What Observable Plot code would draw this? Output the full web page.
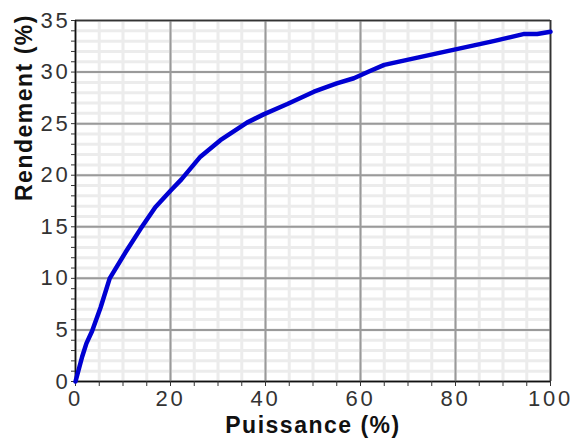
<!DOCTYPE html>
<html>
<head>
<meta charset="utf-8">
<script src="https://cdn.jsdelivr.net/npm/d3@7"></script>
<script src="https://cdn.jsdelivr.net/npm/@observablehq/plot@0.6"></script>
<style>
  html, body { margin: 0; padding: 0; background: #fff; }
  .ticklab text { letter-spacing: 2.8px; }
  .title text { letter-spacing: 1.5px; }
</style>
</head>
<body>
<div id="chart"></div>
<script>
// Data
const puissance = [0, 1.4, 2.3, 3.5, 5.3, 7.2, 10.5, 13.7, 16.8, 20, 22.3, 26.3, 30.5, 36.1, 39.6, 44.6, 50.2, 55, 58.6, 62, 65, 72, 80, 88, 94.5, 97.2, 100];
const rendement = [0, 2.4, 3.7, 4.9, 7.2, 10, 12.5, 14.8, 16.9, 18.5, 19.6, 21.8, 23.4, 25.1, 25.9, 26.9, 28.1, 28.9, 29.4, 30.1, 30.7, 31.4, 32.2, 33.0, 33.7, 33.7, 33.9];
const xMajor = [0, 20, 40, 60, 80, 100];
const xMinor = d3.range(0, 101, 5);
const yMajor = [0, 5, 10, 15, 20, 25, 30, 35];
const yMinor = d3.range(0, 36, 1);
const xLabel = "Puissance (%)";
const yLabel = "Rendement (%)";

const data = puissance.map((p, i) => ({p, r: rendement[i]}));

const chart = Plot.plot({
  width: 574,
  height: 441,
  marginLeft: 75,
  marginRight: 24,
  marginTop: 20,
  marginBottom: 60,
  style: {fontFamily: "'Liberation Sans', Arial, sans-serif", background: "#fff"},
  x: {domain: [0, 100]},
  y: {domain: [0, 35]},
  marks: [
    Plot.gridX(xMinor, {stroke: "#ececec", strokeWidth: 3, strokeOpacity: 1}),
    Plot.gridY(yMinor, {stroke: "#ececec", strokeWidth: 3, strokeOpacity: 1}),
    Plot.gridX(xMajor, {stroke: "#9a9a9a", strokeWidth: 2, strokeOpacity: 1}),
    Plot.gridY(yMajor, {stroke: "#9a9a9a", strokeWidth: 2, strokeOpacity: 1}),
    Plot.ruleX([100], {stroke: "#333", strokeWidth: 1.5}),
    Plot.ruleY([35], {stroke: "#333", strokeWidth: 1.5}),
    Plot.ruleX([0], {stroke: "#111", strokeWidth: 1.5}),
    Plot.ruleY([0], {stroke: "#111", strokeWidth: 1.5}),
    Plot.axisX({ticks: xMinor, tickSize: 5, tickPadding: 4, fontSize: 22, label: null,
      tickFormat: d => (d % 20 === 0 ? String(d) : ""), color: "#333", className: "ticklab"}),
    Plot.axisY({ticks: yMinor, tickSize: 4, tickPadding: 1, fontSize: 22, label: null,
      tickFormat: d => (d % 5 === 0 ? String(d) : ""), color: "#333", className: "ticklab"}),
    Plot.line(data, {x: "p", y: "r", stroke: "#0000d2", strokeWidth: 4.5, strokeLinejoin: "round"}),
    Plot.text([xLabel], {frameAnchor: "bottom", dy: 51, fontSize: 23, fontWeight: "bold", fill: "#111", className: "title"}),
    Plot.text([yLabel], {frameAnchor: "left", dx: -51, rotate: -90, fontSize: 23, fontWeight: "bold", fill: "#111", className: "title"})
  ]
});
document.getElementById("chart").appendChild(chart);
</script>
</body>
</html>
